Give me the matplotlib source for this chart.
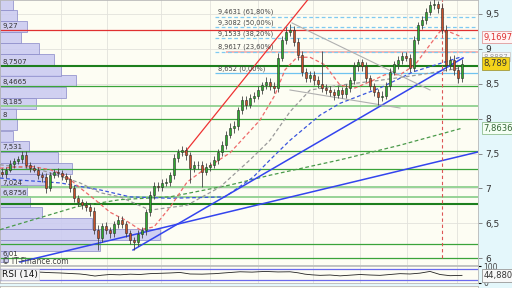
import matplotlib
matplotlib.use("Agg")
import matplotlib.pyplot as plt
import matplotlib.transforms as mtransforms

# daily candles (open = previous close)
first_open = 7.24
closes = [7.21, 7.27, 7.35, 7.39, 7.42, 7.48, 7.34, 7.29, 7.27, 7.19,
          7.16, 7.01, 7.19, 7.24, 7.22, 7.18, 7.14, 7.01, 6.86, 6.81,
          6.76, 6.74, 6.68, 6.41, 6.29, 6.46, 6.41, 6.36, 6.49, 6.55,
          6.49, 6.36, 6.26, 6.23, 6.35, 6.41, 6.66, 6.91, 7.04, 7.02,
          7.08, 7.09, 7.19, 7.44, 7.52, 7.55, 7.48, 7.29, 7.34, 7.34,
          7.24, 7.31, 7.34, 7.41, 7.52, 7.62, 7.77, 7.87, 7.90, 8.12,
          8.27, 8.20, 8.30, 8.33, 8.41, 8.48, 8.53, 8.47, 8.44, 8.87,
          9.13, 9.24, 9.27, 9.10, 8.91, 8.67, 8.58, 8.63, 8.55, 8.50,
          8.44, 8.41, 8.38, 8.34, 8.41, 8.35, 8.44, 8.55, 8.75, 8.81,
          8.75, 8.58, 8.47, 8.38, 8.31, 8.33, 8.47, 8.67, 8.78, 8.84,
          8.90, 8.87, 8.73, 9.13, 9.34, 9.41, 9.53, 9.63, 9.64, 9.59,
          9.27, 8.77, 8.84, 8.70, 8.58, 8.789]
upper_wick = [.05, .04, .06, .04, .05, .05, .06, .04, .05, .04,
              .04, .06, .05, .04, .05, .04, .04, .05, .04, .05,
              .04, .06, .05, .06, .07, .05, .06, .04, .05, .06,
              .05, .05, .04, .05, .06, .04, .05, .06, .05, .06,
              .05, .06, .05, .06, .05, .06, .05, .04, .06, .05,
              .05, .06, .04, .06, .05, .06, .05, .07, .06, .05,
              .06, .05, .06, .05, .06, .05, .06, .05, .06, .07,
              .06, .07, .08, .06, .05, .06, .05, .06, .05, .06,
              .47, .05, .06, .05, .06, .05, .06, .05, .06, .05,
              .05, .06, .05, .04, .05, .06, .05, .06, .05, .06,
              .05, .06, .05, .06, .05, .06, .05, .06, .07, .05,
              .06, .07, .06, .07, .05, .06]
lower_wick = [.05, .06, .04, .05, .04, .06, .05, .06, .04, .05,
              .06, .07, .05, .04, .05, .06, .05, .06, .05, .06,
              .05, .06, .07, .06, .17, .05, .06, .07, .05, .06,
              .05, .06, .06, .11, .05, .06, .07, .05, .06, .05,
              .06, .05, .06, .05, .06, .05, .07, .21, .05, .06,
              .22, .05, .06, .05, .06, .05, .06, .05, .07, .06,
              .05, .06, .05, .06, .05, .06, .05, .06, .07, .06,
              .05, .06, .05, .06, .07, .06, .05, .06, .07, .06,
              .06, .05, .06, .07, .05, .06, .05, .06, .05, .06,
              .06, .05, .06, .05, .11, .06, .05, .06, .05, .07,
              .06, .05, .06, .05, .06, .05, .06, .05, .06, .07,
              .06, .09, .06, .07, .07, .06]

# moving averages, read at a few candles
ma_red_x = [-0.5, 7, 12, 15.75, 19.5, 23.25, 27, 30.75, 34.5, 38, 42, 46.25,
            50, 57, 64.5, 68.25, 70.75, 73.75, 77, 80.75, 84.5, 88.25, 92,
            95.75, 99.5, 103.25, 107, 109.5, 112, 115]
ma_red = [7.29, 7.32, 7.27, 7.19, 7.01, 6.84, 6.66, 6.55, 6.41, 6.45, 6.73, 7.09,
          7.25, 7.51, 7.98, 8.34, 8.70, 8.88, 8.88, 8.77, 8.48, 8.44, 8.53,
          8.63, 8.63, 8.77, 9.06, 9.25, 9.24, 9.1697]
ma_grey_x = [-0.5, 9.5, 19.5, 24.5, 29.5, 37, 46.25, 54.5, 62, 67, 72, 77,
             84.5, 94.5, 104.5, 115]
ma_grey = [7.34, 7.27, 7.08, 6.94, 6.88, 6.69, 6.76, 7.02, 7.41, 7.69, 8.10, 8.41,
           8.48, 8.55, 8.63, 8.73]
ma_blue_x = [-0.5, 4.5, 14.5, 24.5, 32, 42, 55.75, 62.75, 67, 72, 79.5, 84.5,
             94.5, 102.75, 115]
ma_blue = [7.15, 7.12, 7.08, 6.98, 6.88, 6.86, 6.88, 7.16, 7.41, 7.69, 8.05, 8.22,
           8.44, 8.67, 8.8887]
ma_green_x = [-0.5, 18.75, 29.5, 42, 57, 67, 84.5, 99.5, 115]
ma_green = [6.41, 6.74, 6.84, 6.88, 7.05, 7.19, 7.41, 7.62, 7.8636]

# support / resistance levels
levels_dark = [8.7507, 6.78]
levels_green = [8.4665, 8.0, 7.531, 7.28, 6.205, 6.01]
levels_light = [8.185, 7.024, 6.8756]
level_red = 9.27
left_labels = ["9,27", "8,7507", "8,4665", "8,185", "8", "7,531", "7,024", "6,8756", "6,01"]
left_label_levels = [9.27, 8.7507, 8.4665, 8.185, 8.0, 7.531, 7.024, 6.8756, 6.01]

# fibonacci retracement
fib_levels = [9.4631, 9.3082, 9.1533, 8.9617]
fib_labels = ["9,4631 (61,80%)", "9,3082 (50,00%)", "9,1533 (38,20%)", "8,9617 (23,60%)"]
fib_base = 8.652
pink_level = 8.955

# trend lines (candle index, price)
red_trend = ([45.75, 78.5], [7.52, 9.85])
blue_steep = ([32.75, 115.25], [6.119, 8.870])
blue_flat = ([4.5, 119], [5.947, 7.523])
grey_upper = ([72.5, 107], [9.371, 8.411])
grey_lower = ([72, 99.5], [8.411, 8.153])

# volume profile
profile_levels = [6.03, 6.18, 6.34, 6.50, 6.66, 6.81, 6.97, 7.13, 7.28, 7.44, 7.60,
                  7.75, 7.91, 8.07, 8.22, 8.38, 8.54, 8.69, 8.85, 9.01, 9.16,
                  9.32, 9.48, 9.63, 9.79]
profile_volume = [8, 100, 160, 92, 42, 30, 27, 45, 72, 58, 29, 13, 17, 16, 36, 66,
                  76, 61, 54, 39, 21, 27, 17, 13, 8]

# RSI(14)
rsi_x = [7.75, 9.5, 12, 14.5, 17, 19.5, 21, 23.25, 25, 27, 29.5, 32, 34.5, 37,
         39.5, 42, 44.5, 47, 50, 53.25, 56, 59.5, 62.5, 65.75, 69, 72, 74,
         75.75, 77.5, 79.5, 82, 84.5, 87, 89.5, 92, 94.5, 97, 99.5, 102,
         104.5, 107, 109.5, 112, 115]
rsi = [66, 64, 61, 59, 56, 53, 49, 41, 46, 50, 48, 52, 50, 55, 57, 59, 62, 53,
       52, 55, 60, 66, 64, 68, 65, 66, 60, 52, 48, 45, 47, 42, 46, 50, 47, 45,
       50, 55, 53, 58, 68, 50, 43, 44.88]

price_ticks = [6, 6.5, 7, 7.5, 8, 8.5, 9, 9.5]
vgrid = [14.75, 26.25, 39.75, 52, 64, 77.75, 89.5, 101.25, 113.75]

W, H = 512, 288
fig = plt.figure(figsize=(W / 100, H / 100), dpi=100, facecolor="#e4f7fb")
ax = fig.add_axes([0, 23 / H, 478 / W, 265 / H], facecolor="#fdfdf3")
ax.set_xlim(-0.5, 119)
ax.set_ylim(5.904, 9.70)

ax.set_xticks(vgrid)
ax.set_yticks(price_ticks)
ax.grid(True, color="#e2e2dc", lw=0.6, zorder=0)
ax.set_axisbelow(True)
ax.yaxis.tick_right()
ax.set_yticklabels([f"{t:g}".replace(".", ",") for t in price_ticks])
ax.tick_params(axis="y", labelsize=6.5, labelcolor="#333333", color="#777777",
               length=3, width=0.6, pad=2)
ax.tick_params(axis="x", length=0, labelbottom=False)
for s in ax.spines.values():
    s.set_color("#b8b8b8")
    s.set_linewidth(0.6)

# volume profile
ax.barh(profile_levels, [v * 0.25 for v in profile_volume], height=0.157, left=-0.5,
        color="#cbcbf1", edgecolor="#8e8ecb", linewidth=0.6, alpha=0.9, zorder=1)

# horizontal levels
for lv in levels_dark:
    ax.axhline(lv, color="#1d7f1d", lw=1.5, zorder=2)
for lv in levels_green:
    ax.axhline(lv, color="#3aa43a", lw=0.9, zorder=2)
for lv in levels_light:
    ax.axhline(lv, color="#8fd08f", lw=1.3, zorder=2)
ax.axhline(level_red, color="#e03030", lw=0.9, zorder=2)
ax.hlines(pink_level, 56, 119, color="#f2a9a9", lw=1.2, zorder=2)
ax.hlines(fib_levels, 53.25, 119, color="#7fcaf2", lw=0.9, linestyles=(0, (3, 2)), zorder=2)
ax.hlines(fib_base, 53.25, 119, color="#6fc3f0", lw=0.9, zorder=2)

tr = mtransforms.blended_transform_factory(ax.transAxes, ax.transData)
for lab, lv in zip(left_labels, left_label_levels):
    ax.text(0.006, lv + 0.015, lab, transform=tr, fontsize=5, color="#333333",
            va="bottom", ha="left", zorder=6)
for lab, lv in zip(fib_labels, fib_levels):
    ax.text(54, lv + 0.02, lab, fontsize=4.8, color="#444444", va="bottom", zorder=6)
ax.text(54, fib_base + 0.02, "8,652 (0,00%)", fontsize=4.8, color="#444444",
        va="bottom", zorder=6)

# moving averages
dash = (0, (3, 2))
ax.plot(ma_green_x, ma_green, color="#4a9a4a", lw=0.9, ls=dash, zorder=3)
ax.plot(ma_blue_x, ma_blue, color="#3a55dd", lw=0.9, ls=dash, zorder=3)
ax.plot(ma_grey_x, ma_grey, color="#9a9a9a", lw=0.9, ls=dash, zorder=3)
ax.plot(ma_red_x, ma_red, color="#ee6a6a", lw=0.9, ls=dash, zorder=3)

# trend lines
ax.plot(*red_trend, color="#ee3333", lw=0.9, zorder=3)
ax.plot(*blue_steep, color="#3344ee", lw=1.1, zorder=3)
ax.plot(*blue_flat, color="#3344ee", lw=1.1, zorder=3)
ax.plot(*grey_upper, color="#b0b0b0", lw=0.8, zorder=3)
ax.plot(*grey_lower, color="#b0b0b0", lw=0.8, zorder=3)

# candles
opens = [first_open] + closes[:-1]
idx = list(range(len(closes)))
highs = [max(o, c) + u for o, c, u in zip(opens, closes, upper_wick)]
lows = [min(o, c) - d for o, c, d in zip(opens, closes, lower_wick)]
ax.vlines(idx, lows, highs, color="#444444", lw=0.6, zorder=4)
body_col = ["#2faa2f" if c >= o else "#c8502a" for o, c in zip(opens, closes)]
ax.bar(idx, [c - o for o, c in zip(opens, closes)], bottom=opens, width=0.7,
       color=body_col, edgecolor="#2a2a2a", linewidth=0.4, zorder=5)

ax.axvline(110, ymin=0.025, color="#dd5555", lw=0.8, ls=(0, (3, 2.5)), zorder=3)

ax.text(0.004, -0.002, "\u00a9 IT-Finance.com", transform=ax.transAxes, fontsize=5.5,
        color="#444444", va="bottom", zorder=6)

# right-side value boxes
def tag(y, txt, fc, ec, tc, size=6):
    ax.text(1.012, y, txt, transform=tr, fontsize=size, color=tc, va="center",
            ha="left", bbox=dict(boxstyle="square,pad=0.2", fc=fc, ec=ec, lw=0.6),
            clip_on=False, zorder=7)

tag(9.1697, "9,1697", "#fff5f5", "#e09a9a", "#dd3333")
tag(8.8887, "8,8887", "#f8f8f8", "#cccccc", "#9a9a9a", 5)
tag(8.789, "8,789", "#f5d31a", "#a09a40", "#333333")
tag(7.8636, "7,8636", "#f4fff4", "#8fbf8f", "#336633")

# RSI panel
rx = fig.add_axes([0, 5 / H, 478 / W, 17 / H], facecolor="#fdfdf3")
rx.set_xlim(-0.5, 119)
rx.set_ylim(0, 100)
rx.axhline(80, color="#6a6aee", lw=0.9)
rx.axhline(20, color="#6a6aee", lw=0.9)
rx.plot(rsi_x, rsi, color="#222222", lw=0.6)
rx.set_xticks(vgrid)
rx.grid(True, axis="x", color="#e2e2dc", lw=0.6)
rx.yaxis.tick_right()
rx.set_yticks([0, 100])
rx.set_yticklabels(["0", "100"])
rx.tick_params(axis="y", labelsize=5.5, labelcolor="#444444", length=2, pad=2)
rx.tick_params(axis="x", length=0, labelbottom=False)
for s in rx.spines.values():
    s.set_color("#b8b8b8")
    s.set_linewidth(0.6)
rx.text(0.004, 0.5, "RSI (14)", transform=rx.transAxes, fontsize=6.5, color="#111111",
        va="center", bbox=dict(boxstyle="square,pad=0.15", fc="#f4f4f4", ec="#cccccc", lw=0.5))
rx.text(1.012, rsi[-1], "44,880", transform=mtransforms.blended_transform_factory(
    rx.transAxes, rx.transData), fontsize=6, color="#333333", va="center",
    bbox=dict(boxstyle="square,pad=0.2", fc="#f8f8f8", ec="#999999", lw=0.6), clip_on=False)

# strip of the next panel
bx = fig.add_axes([0, 0, 478 / W, 2 / H], facecolor="#fdfdf3")
bx.set_xticks([])
bx.set_yticks([])
for s in bx.spines.values():
    s.set_color("#b8b8b8")
    s.set_linewidth(0.6)

fig.savefig("out.png", dpi=100, facecolor=fig.get_facecolor())
